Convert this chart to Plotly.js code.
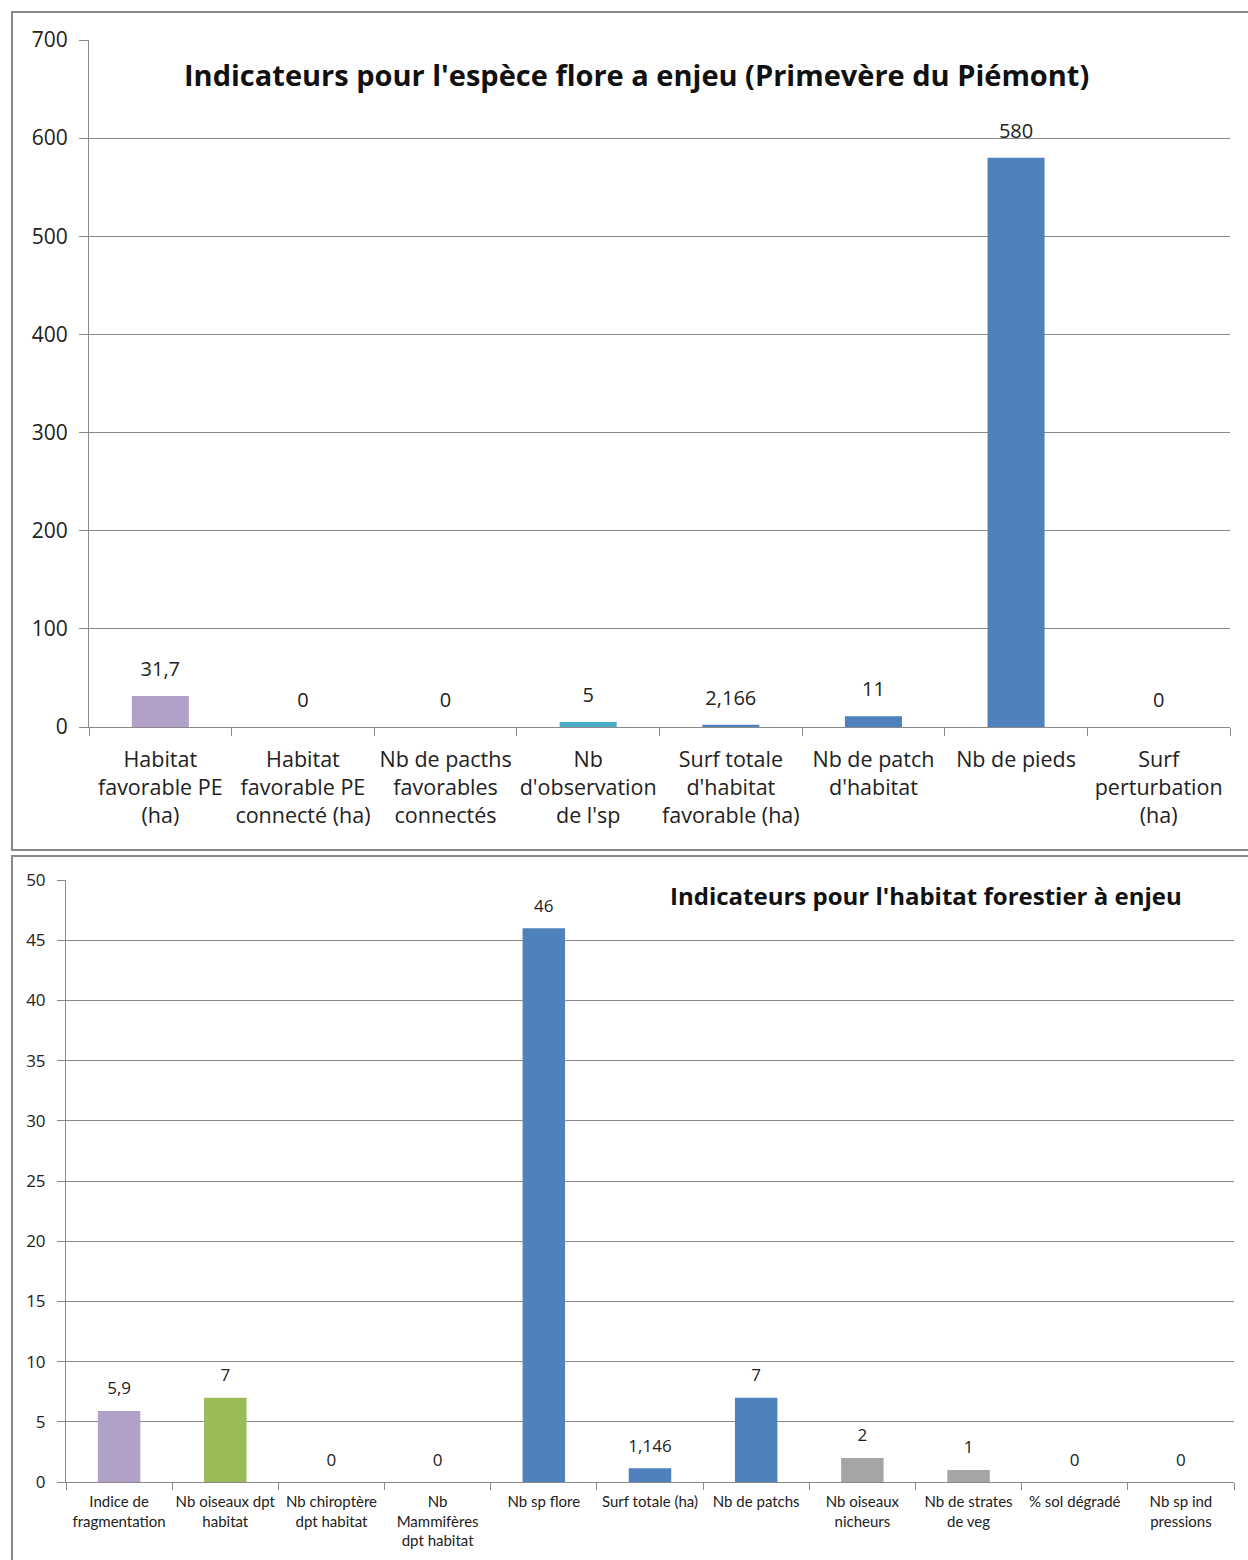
<!DOCTYPE html>
<html><head><meta charset="utf-8">
<script src="https://cdn.plot.ly/plotly-3.0.1.min.js"></script>
<style>body{margin:0;background:#fff}#c{width:1248px;height:1560px}</style>
</head><body><div id="c"></div>
<script>
// Top chart: espèce flore
const cats1 = ["Habitat<br>favorable PE<br>(ha)", "Habitat<br>favorable PE<br>connecté (ha)", "Nb de pacths<br>favorables<br>connectés", "Nb<br>d'observation<br>de l'sp", "Surf totale<br>d'habitat<br>favorable (ha)", "Nb de patch<br>d'habitat", "Nb de pieds", "Surf<br>perturbation<br>(ha)"];
const vals1 = [31.7, 0, 0, 5, 2.166, 11, 580, 0];
const colors1 = ["#B1A0C7", "#4F81BD", "#4F81BD", "#4BACC6", "#4F81BD", "#4F81BD", "#4F81BD", "#4F81BD"];
const title1 = "Indicateurs pour l'espèce flore a enjeu (Primevère du Piémont)";

// Bottom chart: habitat forestier
const cats2 = ["Indice de<br>fragmentation", "Nb oiseaux dpt<br>habitat", "Nb chiroptère<br>dpt habitat", "Nb<br>Mammifères<br>dpt habitat", "Nb sp flore", "Surf totale (ha)", "Nb de patchs", "Nb oiseaux<br>nicheurs", "Nb de strates<br>de veg", "% sol dégradé", "Nb sp ind<br>pressions"];
const vals2 = [5.9, 7, 0, 0, 46, 1.146, 7, 2, 1, 0, 0];
const colors2 = ["#B1A0C7", "#9BBB59", "#4F81BD", "#4F81BD", "#4F81BD", "#4F81BD", "#4F81BD", "#A5A5A5", "#A5A5A5", "#4F81BD", "#4F81BD"];
const title2 = "Indicateurs pour l'habitat forestier à enjeu";

const fmt = v => String(v).replace('.', ',');
const W = 1248, H = 1560;
const px = x => x / W, py = y => 1 - y / H;
const FONT = "'Open Sans', sans-serif";
const NARROW = "Lato, 'Open Sans', sans-serif";
const GRID = "#8a8a8a";

const traces = [
  {type:'bar', x:cats1, y:vals1, marker:{color:colors1}, width:0.4, xaxis:'x', yaxis:'y', hoverinfo:'skip', showlegend:false},
  {type:'scatter', mode:'text+markers', marker:{size:22, opacity:0}, x:cats1, y:vals1, text:vals1.map(fmt), textposition:'top center', textfont:{size:20, color:'#222', family:FONT}, cliponaxis:false, xaxis:'x', yaxis:'y', hoverinfo:'skip', showlegend:false},
  {type:'bar', x:cats2, y:vals2, marker:{color:colors2}, width:0.4, xaxis:'x2', yaxis:'y2', hoverinfo:'skip', showlegend:false},
  {type:'scatter', mode:'text+markers', marker:{size:18, opacity:0}, x:cats2, y:vals2, text:vals2.map(fmt), textposition:'top center', textfont:{size:17, color:'#222', family:FONT}, cliponaxis:false, xaxis:'x2', yaxis:'y2', hoverinfo:'skip', showlegend:false}
];

const layout = {
  width: W, height: H, margin:{l:0,r:0,t:0,b:0}, paper_bgcolor:'#fff', plot_bgcolor:'#fff',
  font:{family:FONT, color:'#222'},
  xaxis:{domain:[px(89), px(1230)], anchor:'y', type:'category', range:[-0.5, cats1.length-0.5], tickson:'boundaries', ticks:'outside', ticklen:8, tickcolor:GRID, showline:true, linecolor:GRID, linewidth:1, showgrid:false, tickangle:0, automargin:false, tickfont:{size:21.5, color:'#222'}, ticklabelstandoff:13, fixedrange:true},
  yaxis:{domain:[py(727), py(40)], anchor:'x', range:[0,700], dtick:100, ticks:'outside', ticklen:9, tickcolor:GRID, showline:true, linecolor:GRID, gridcolor:GRID, gridwidth:1, zeroline:false, automargin:false, tickfont:{size:21, color:'#222'}, ticklabelstandoff:7, fixedrange:true},
  xaxis2:{domain:[px(66), px(1234)], anchor:'y2', type:'category', range:[-0.5, cats2.length-0.5], tickson:'boundaries', ticks:'outside', ticklen:7, tickcolor:GRID, showline:true, linecolor:GRID, linewidth:1, showgrid:false, tickangle:0, automargin:false, tickfont:{size:15, color:'#222', family:NARROW}, ticklabelstandoff:6, fixedrange:true},
  yaxis2:{domain:[py(1482), py(880)], anchor:'x2', range:[0,50], dtick:5, ticks:'outside', ticklen:8, tickcolor:GRID, showline:true, linecolor:GRID, gridcolor:GRID, gridwidth:1, zeroline:false, automargin:false, tickfont:{size:17, color:'#222'}, ticklabelstandoff:8, fixedrange:true},
  annotations:[
    {text:'<b>'+title1+'</b>', xref:'paper', yref:'paper', x:px(636), y:py(74), xanchor:'center', yanchor:'middle', showarrow:false, font:{size:29, color:'#111', family:FONT}},
    {text:'<b>'+title2+'</b>', xref:'paper', yref:'paper', x:px(926), y:py(896), xanchor:'center', yanchor:'middle', showarrow:false, font:{size:24, color:'#111', family:FONT}}
  ],
  shapes:[
    {type:'rect', xref:'paper', yref:'paper', x0:px(12), x1:px(1252), y0:py(850), y1:py(12), line:{color:'#888', width:2}},
    {type:'rect', xref:'paper', yref:'paper', x0:px(12), x1:px(1252), y0:py(1565), y1:py(856), line:{color:'#888', width:2}}
  ]
};

Plotly.newPlot('c', traces, layout, {displayModeBar:false, staticPlot:true});
</script></body></html>
